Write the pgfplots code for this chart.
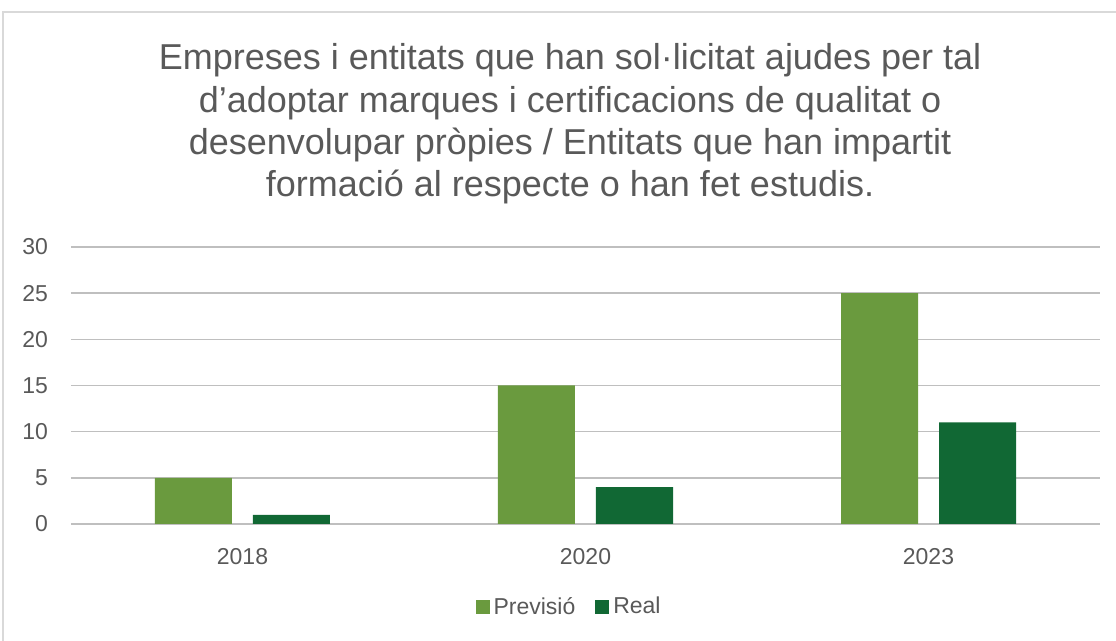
\documentclass[border=0pt]{standalone}
\usepackage{pgfplots}
\pgfplotsset{compat=1.18}
\usepackage{fontspec}
\setmainfont{Liberation Sans}
\definecolor{prev}{HTML}{6A9A3E}
\definecolor{real}{HTML}{116834}
\definecolor{txt}{HTML}{595959}
\definecolor{grid}{HTML}{D9D9D9}
\begin{document}
\begin{tikzpicture}[x=1pt,y=1pt]
\begin{axis}[
  scale only axis, width=514.5pt, height=138.5pt,
  xmin=-0.5, xmax=2.5, ymin=0, ymax=30,
  ytick={0,5,...,30},
  xtick={0,1,2}, xticklabels={2018,2020,2023},
  axis line style={draw=none},
  major tick length=0pt,
  ymajorgrids, xmajorgrids=false, grid style={grid, line width=0.8pt},
  tick label style={text=txt, font=\fontsize{11.5}{13}\selectfont},
  /pgf/number format/assume math mode=true,
  yticklabel style={xshift=-8pt},
  xticklabel style={yshift=-8.5pt},
  ybar, bar width=38.5pt,
  legend style={at={(0.485,-0.30)}, anchor=center, draw=none, legend columns=2,
    font=\fontsize{11.5}{13}\selectfont, text=txt, inner sep=0pt,
    /tikz/every even column/.append style={column sep=8pt}},
  legend image code/.code={\fill[#1] (0pt,-3.5pt) rectangle (7pt,3.5pt);},
  clip=false,
]
\addplot[fill=prev, draw=none, bar shift=-24.5pt] coordinates {(0,5) (1,15) (2,25)};
\addplot[fill=real, draw=none, bar shift=24.5pt] coordinates {(0,1) (1,4) (2,11)};
\legend{Previsió, Real}
\coordinate (O) at (rel axis cs:0,0);
\end{axis}
\pgfresetboundingbox
\begin{scope}[shift={(O)}]
\useasboundingbox (-35.5,-58.5) rectangle (522.5,262);
\draw[grid, line width=0.75pt] (-34,-58.5) -- (-34,256) -- (522.5,256);
\node[align=center, text=txt, font=\fontsize{18}{21.2}\selectfont, anchor=center] at (249.5,200)
{Empreses i entitats que han sol·licitat ajudes per tal\\
d’adoptar marques i certificacions de qualitat o\\
desenvolupar pròpies / Entitats que han impartit\\
formació al respecte o han fet estudis.};
\end{scope}
\end{tikzpicture}
\end{document}
